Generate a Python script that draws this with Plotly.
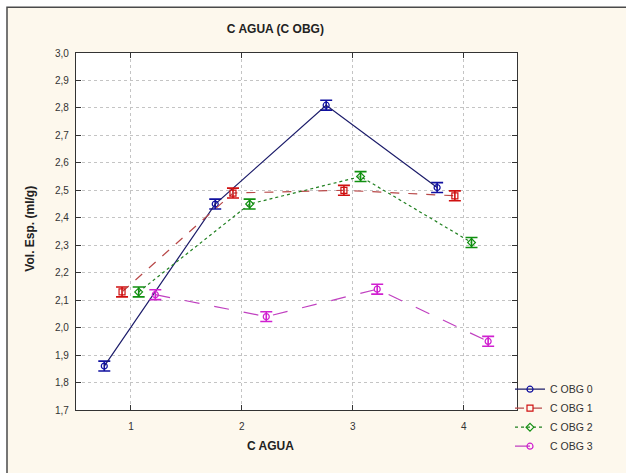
import plotly.graph_objects as go

categories = [1, 2, 3, 4]
series_names = ["C OBG 0", "C OBG 1", "C OBG 2", "C OBG 3"]
offsets = [-0.24, -0.08, 0.07, 0.22]
obg0 = [1.86, 2.45, 2.81, 2.51]
obg1 = [2.13, 2.49, 2.50, 2.48]
obg2 = [2.13, 2.45, 2.55, 2.31]
obg3 = [2.12, 2.04, 2.14, 1.95]
err0 = [0.018, 0.018, 0.018, 0.018]
err1 = [0.018, 0.018, 0.018, 0.018]
err2 = [0.018, 0.018, 0.018, 0.018]
err3 = [0.018, 0.018, 0.018, 0.018]
y_ticks = [1.7, 1.8, 1.9, 2.0, 2.1, 2.2, 2.3, 2.4, 2.5, 2.6, 2.7, 2.8, 2.9, 3.0]

values = [obg0, obg1, obg2, obg3]
errors = [err0, err1, err2, err3]
line_colors = ["#1c1c6a", "#b84848", "#208020", "#c040c0"]
marker_colors = ["#1010a0", "#d01010", "#109010", "#d020d0"]
dashes = ["solid", "dash", "dot", "longdash"]
symbols = ["circle-open", "square-open", "diamond-open", "circle-open"]

fig = go.Figure()
for name, off, v, e, lc, mc, d, s in zip(series_names, offsets, values, errors,
                                         line_colors, marker_colors, dashes, symbols):
    fig.add_trace(go.Scatter(
        x=[c + off for c in categories], y=v, name=name,
        mode="lines+markers",
        line=dict(color=lc, width=1.2, dash=d),
        marker=dict(symbol=s, size=6, color=mc, line=dict(width=1.2, color=mc)),
        error_y=dict(type="data", array=e, color=mc, thickness=1.6, width=6),
    ))

L, R, T, B = 76, 109, 53, 46
W, H = 626, 473
pw = W - L - R
ph = H - T - B

def px_x(p):
    return (p - L) / pw

def px_y(p):
    return (H - B - p) / ph

fig.add_shape(type="rect", xref="paper", yref="paper",
              x0=px_x(7), x1=px_x(640), y0=px_y(500), y1=px_y(5),
              fillcolor="#fdf8ed", line=dict(color="#4a4a4a", width=1.5), layer="below")
fig.add_shape(type="rect", xref="paper", yref="paper",
              x0=0, x1=1, y0=0, y1=1,
              fillcolor="#ffffff", line=dict(width=0), layer="below")

fig.add_annotation(text="<b>C AGUA</b>", xref="paper", yref="paper",
                   x=px_x(270), y=px_y(465), xanchor="center", yanchor="middle",
                   showarrow=False, font=dict(size=12, color="#222"))
fig.add_annotation(text="<b>Vol. Esp. (ml/g)</b>", xref="paper", yref="paper",
                   x=px_x(30), y=px_y(237), xanchor="center", yanchor="middle",
                   textangle=-90, showarrow=False, font=dict(size=12, color="#222"))

fig.update_layout(
    width=W, height=H,
    margin=dict(l=L, r=R, t=T, b=B),
    paper_bgcolor="#ffffff",
    plot_bgcolor="rgba(0,0,0,0)",
    separators=",.",
    font=dict(family="Liberation Sans, Arial, sans-serif", size=10, color="#222"),
    title=dict(text="<b>C AGUA (C OBG)</b>", x=px_x(270), xanchor="center",
               y=1 - 29 / H, yanchor="middle", font=dict(size=12, color="#222")),
    showlegend=True,
    legend=dict(x=px_x(510), xanchor="left", y=px_y(390), yanchor="top",
                bgcolor="rgba(0,0,0,0)", font=dict(size=10.5, color="#333"),
                tracegroupgap=0, itemwidth=30),
)
fig.update_xaxes(
    range=[0.505, 4.48], tickvals=categories, ticktext=[str(c) for c in categories],
    showgrid=True, gridcolor="#c4c4c4", griddash="dot", gridwidth=1,
    showline=True, linecolor="#333", linewidth=1.2, mirror="ticks",
    ticks="inside", ticklen=5, tickcolor="#333", ticklabelstandoff=7,
    zeroline=False, tickfont=dict(size=10, color="#333"), automargin=False,
)
fig.update_yaxes(
    range=[1.7, 3.0], tickvals=y_ticks, tickformat=".1f",
    showgrid=True, gridcolor="#c4c4c4", griddash="dot", gridwidth=1,
    showline=True, linecolor="#333", linewidth=1.2, mirror="ticks",
    ticks="inside", ticklen=5, tickcolor="#333", ticklabelstandoff=4,
    zeroline=False, tickfont=dict(size=10, color="#333"), automargin=False,
)

fig.write_html(
    "out.html",
    config={"displayModeBar": False},
    post_script=("document.documentElement.style.margin='0px';"
                 "document.body.style.margin='0px';"
                 "document.documentElement.style.overflow='hidden';"
                 "document.body.style.overflow='hidden';"),
)
